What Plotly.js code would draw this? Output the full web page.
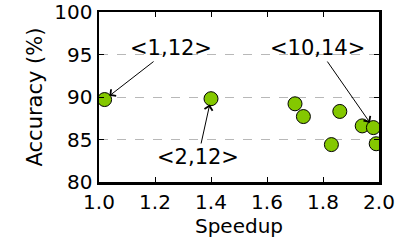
<!DOCTYPE html>
<html>
<head>
<meta charset="utf-8">
<script src="https://cdn.plot.ly/plotly-3.0.1.min.js"></script>
<style>html,body{margin:0;padding:0;background:#fff;}#chart{width:399px;height:249px;}</style>
</head>
<body>
<div id="chart"></div>
<script>
const speedup = [1.02, 1.40, 1.70, 1.73, 1.83, 1.86, 1.94, 1.98, 1.99];
const accuracy = [89.7, 89.8, 89.2, 87.7, 84.4, 88.3, 86.6, 86.4, 84.5];
const annLabels = ["<1,12>", "<2,12>", "<10,14>"];
const annPointX = [1.02, 1.40, 1.98];
const annPointY = [89.7, 89.8, 86.4];
const annTextX = [1.257, 1.354, 1.782];
const annTextY = [95.76, 82.94, 95.76];
const xTicks = [1.0, 1.2, 1.4, 1.6, 1.8, 2.0];
const yTicks = [80, 85, 90, 95, 100];

const font = "DejaVu Sans, sans-serif";
const trace = {
  x: speedup, y: accuracy, type: 'scatter', mode: 'markers',
  marker: {size: 14, color: '#84c800', line: {color: '#000', width: 1}},
  cliponaxis: true, hoverinfo: 'none'
};
const annotations = annLabels.map((t, i) => ({
  x: annPointX[i], y: annPointY[i], xref: 'x', yref: 'y',
  ax: annTextX[i], ay: annTextY[i], axref: 'x', ayref: 'y',
  text: t, showarrow: true, arrowhead: 4, arrowsize: 1.6, arrowwidth: 1,
  arrowcolor: '#000', standoff: 6,
  font: {family: font, size: 21, color: '#000'}
}));
const layout = {
  width: 399, height: 249,
  margin: {l: 99, r: 20, t: 12, b: 67},
  paper_bgcolor: '#fff', plot_bgcolor: '#fff',
  showlegend: false,
  font: {family: font, color: '#000'},
  xaxis: {
    range: [1.0, 2.0], tickvals: xTicks, ticktext: xTicks.map(v => v.toFixed(1)),
    showgrid: false, zeroline: false,
    showline: true, linecolor: '#000', linewidth: 2.5, mirror: 'ticks',
    ticks: 'inside', ticklen: 5, tickcolor: '#000', tickwidth: 1,
    tickfont: {family: font, size: 20, color: '#000'},
    title: {text: 'Speedup', font: {family: font, size: 20, color: '#000'}, standoff: 5}
  },
  yaxis: {
    range: [80, 100], tickvals: yTicks, ticktext: yTicks.map(String),
    showgrid: true, gridcolor: '#b8b8b8', griddash: 'dash', gridwidth: 1,
    zeroline: false,
    showline: true, linecolor: '#000', linewidth: 2.5, mirror: 'ticks',
    ticks: 'inside', ticklen: 5, tickcolor: '#000', tickwidth: 1,
    tickfont: {family: font, size: 20, color: '#000'},
    title: {text: 'Accuracy (%)', font: {family: font, size: 21, color: '#000'}, standoff: 6}
  },
  annotations: annotations
};
Plotly.newPlot('chart', [trace], layout, {staticPlot: true, displayModeBar: false});
</script>
</body>
</html>
